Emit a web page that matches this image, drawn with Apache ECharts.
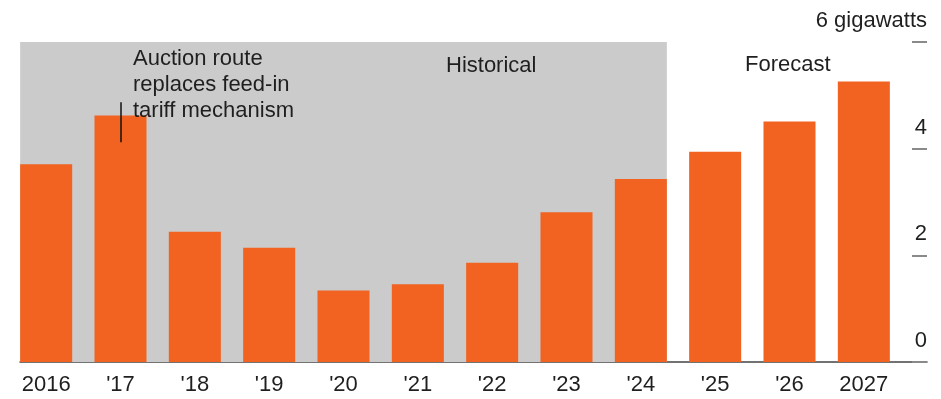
<!DOCTYPE html>
<html>
<head>
<meta charset="utf-8">
<script src="https://cdn.jsdelivr.net/npm/echarts@6/dist/echarts.min.js"></script>
<style>
html,body{margin:0;padding:0;background:#fff;}
#c{width:941px;height:399px;}
</style>
</head>
<body>
<div id="c"></div>
<script>
// Data
const categories = ['2016', "'17", "'18", "'19", "'20", "'21", "'22", "'23", "'24", "'25", "'26", '2027'];
const capacityGW = [3.71, 4.62, 2.44, 2.14, 1.34, 1.46, 1.86, 2.81, 3.43, 3.94, 4.51, 5.26];
const yTicks = [0, 2, 4, 6];
const historicalStart = '2016';
const historicalEnd = "'24";
const annotationCategory = "'17";
const annotationRange = [4.12, 4.87];
const annotationText = ['Auction route', 'replaces feed-in', 'tariff mechanism'];

const FONT = '"Liberation Sans", Arial, Helvetica, sans-serif';
const BAR_COLOR = '#f26322';
const GRAY = '#cbcbcb';
const TEXT = '#1f1f1f';
const barFrac = 0.70; // bar width share of a band
const yMax = yTicks[yTicks.length - 1];

const hStart = categories.indexOf(historicalStart) - barFrac / 2;
const hEnd = categories.indexOf(historicalEnd) + barFrac / 2;

const chart = echarts.init(document.getElementById('c'), null, {renderer: 'canvas'});
chart.setOption({
  animation: false,
  backgroundColor: '#fff',
  textStyle: {fontFamily: FONT},
  grid: [
    {left: 9, right: 40, top: 42, bottom: 37},
    {left: 20, right: 14, top: 42, bottom: 37}
  ],
  xAxis: [
    {
      type: 'category', gridIndex: 0, data: categories,
      axisLine: {show: false}, axisTick: {show: false},
      axisLabel: {color: TEXT, fontSize: 22, fontFamily: FONT, margin: 12, interval: 0}
    },
    {
      type: 'category', gridIndex: 1, data: [],
      axisLine: {show: true, lineStyle: {color: '#444', width: 1.5}},
      axisTick: {show: false}, axisLabel: {show: false}
    },
    {
      type: 'value', gridIndex: 0, min: -0.5, max: categories.length - 0.5, show: false
    }
  ],
  yAxis: [
    {type: 'value', gridIndex: 0, min: 0, max: yMax, interval: 2, show: false},
    {
      type: 'value', gridIndex: 1, min: 0, max: yMax, interval: 2, position: 'right',
      axisLine: {show: false},
      splitLine: {show: false},
      axisTick: {show: true, inside: true, length: 15, lineStyle: {color: '#8a8a8a', width: 2}},
      axisLabel: {
        show: true, inside: true, margin: 0, color: TEXT, fontSize: 22, fontFamily: FONT,
        verticalAlign: 'bottom', padding: [0, 0, 10, 0], showMaxLabel: true, showMinLabel: true,
        formatter: v => (v === yMax ? v + ' gigawatts' : String(v))
      }
    }
  ],
  series: [
    {
      type: 'line', xAxisIndex: 2, yAxisIndex: 0, data: [], z: 0, silent: true,
      markArea: {
        silent: true,
        itemStyle: {color: GRAY},
        data: [[{coord: [hStart, 0]}, {coord: [hEnd, yMax]}]]
      }
    },
    {
      type: 'bar', xAxisIndex: 0, yAxisIndex: 0, data: capacityGW, z: 3,
      barCategoryGap: '30%',
      itemStyle: {color: BAR_COLOR},
      markLine: {
        silent: true, symbol: 'none', label: {show: false},
        lineStyle: {color: '#111', width: 1.5, type: 'solid'},
        data: [[{coord: [annotationCategory, annotationRange[1]]}, {coord: [annotationCategory, annotationRange[0]]}]]
      }
    }
  ],
  graphic: [
    {
      type: 'text', left: 133, top: 46, z: 10,
      style: {text: annotationText.join('\n'), fill: TEXT, font: '22px ' + FONT, lineHeight: 26}
    },
    {
      type: 'text', left: 446, top: 55, z: 10,
      style: {text: 'Historical', fill: TEXT, font: '22px ' + FONT}
    },
    {
      type: 'text', left: 745, top: 54, z: 10,
      style: {text: 'Forecast', fill: TEXT, font: '22px ' + FONT}
    }
  ]
});
</script>
</body>
</html>
